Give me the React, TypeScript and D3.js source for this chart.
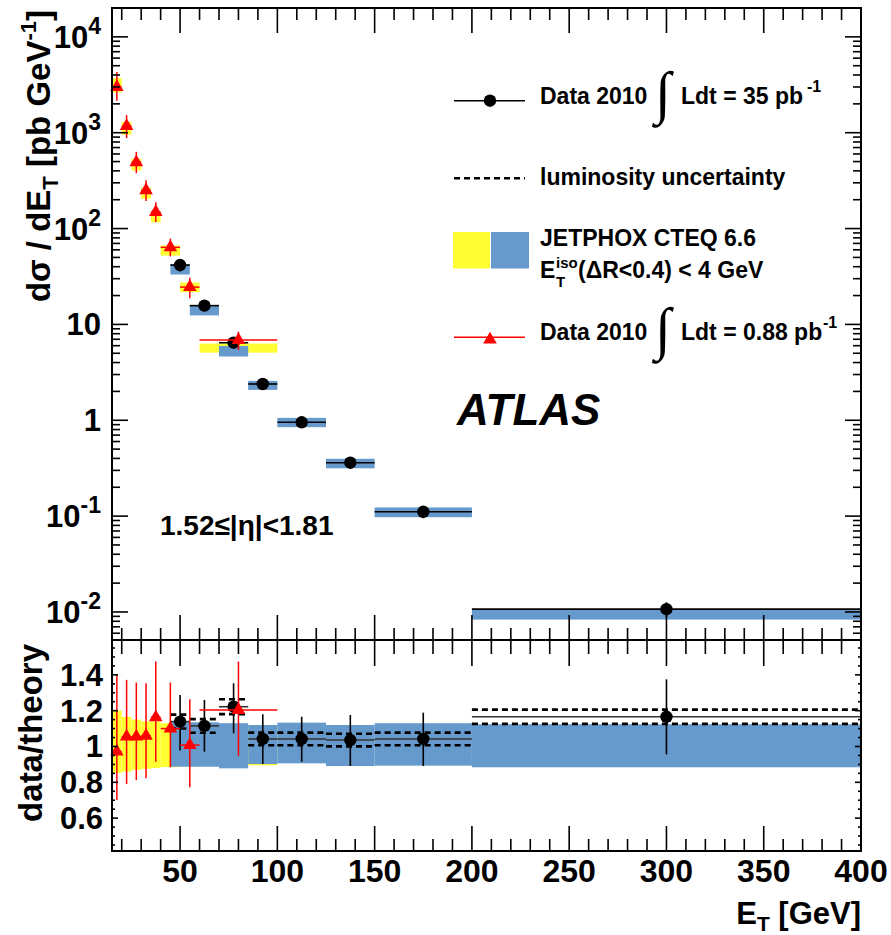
import React, { useEffect, useRef } from "react";
import * as d3 from "d3";

// Data 2010, 35 pb-1 (black points), bin edges in GeV
const binsHigh = [45, 55, 70, 85, 100, 125, 150, 200, 400];
const xsecHigh = [41.6, 15.7, 6.44, 2.39, 0.953, 0.361, 0.111, 0.0107];
const ratioHigh = [1.139, 1.115, 1.222, 1.042, 1.042, 1.036, 1.042, 1.166];
const ratioHighLo = [0.977, 0.971, 1.074, 0.902, 0.915, 0.891, 0.891, 0.956];
const ratioHighHi = [1.288, 1.26, 1.353, 1.18, 1.166, 1.176, 1.189, 1.375];
// JETPHOX prediction in the 35 pb-1 binning (blue)
const theoryHigh = [37.4, 14.0, 5.27, 2.3, 0.935, 0.354, 0.109, 0.00942];
const theoryHighUp = [0.14, 0.135, 0.13, 0.12, 0.133, 0.12, 0.13, 0.124];
const theoryHighDown = [0.113, 0.113, 0.122, 0.098, 0.094, 0.109, 0.107, 0.116];

// Data 2010, 0.88 pb-1 (red triangles)
const binsLow = [15, 20, 25, 30, 35, 40, 50, 60, 100];
const xsecLow = [2990, 1173, 491, 250, 148.6, 63.7, 24.5, 6.87];
const ratioLow = [0.971, 1.055, 1.055, 1.06, 1.163, 1.1, 1.008, 1.204];
const ratioLowLo = [0.701, 0.79, 0.813, 0.822, 0.915, 0.884, 0.772, 0.947];
const ratioLowHi = [1.399, 1.372, 1.357, 1.353, 1.474, 1.357, 1.264, 1.474];
// JETPHOX prediction in the 0.88 pb-1 binning (yellow)
const theoryLow = [3080, 1110, 465, 234, 132, 59.0, 24.4, 5.67];
const theoryLowUp = [0.2, 0.165, 0.15, 0.14, 0.14, 0.13, 0.12, 0.115];
const theoryLowDown = [0.147, 0.14, 0.13, 0.125, 0.12, 0.115, 0.11, 0.105];

const lumiUnc = 0.034;

const xTickValues = [50, 100, 150, 200, 250, 300, 350, 400];
const yTickValues = [1e4, 1e3, 1e2, 10, 1, 0.1, 0.01];
const yTickBase = ["10", "10", "10", "10", "1", "10", "10"];
const yTickExp = ["4", "3", "2", "", "", "-1", "-2"];
const rTickValues = [0.6, 0.8, 1, 1.2, 1.4];
const rTickLabels = ["0.6", "0.8", "1", "1.2", "1.4"];

const YELLOW = "#ffff33";
const BLUE = "#6699cc";
const RED = "#ff0000";
const FONT = "'Liberation Sans', Arial, Helvetica, sans-serif";

export default function App() {
  const ref = useRef<SVGSVGElement>(null);

  useEffect(() => {
    const svg = d3.select(ref.current);
    svg.selectAll("*").remove();

    const width = 891;
    const height = 935;
    const left = 112, right = 861, top = 8, mid = 640, bottom = 851;

    const x = d3.scaleLinear().domain([15, 400]).range([left, right]);
    const y = d3.scaleLog().domain([0.0051, 20000]).range([mid, top]);
    const yr = d3.scaleLinear().domain([0.4165, 1.5946]).range([bottom, mid]);

    svg.attr("width", width).attr("height", height);
    svg.append("rect").attr("width", width).attr("height", height).attr("fill", "#fff");

    const tri = d3.symbol(d3.symbolTriangle, 80)();

    // ---------- upper panel ----------
    const up = svg.append("g");

    // yellow boxes
    theoryLow.forEach((t, i) => {
      const y1 = y(t * (1 + theoryLowUp[i]));
      const y2 = y(t * (1 - theoryLowDown[i]));
      up.append("rect")
        .attr("x", x(binsLow[i])).attr("width", x(binsLow[i + 1]) - x(binsLow[i]))
        .attr("y", y1).attr("height", y2 - y1)
        .attr("fill", YELLOW);
    });
    // blue boxes
    theoryHigh.forEach((t, i) => {
      const y1 = y(t * (1 + theoryHighUp[i]));
      const y2 = y(t * (1 - theoryHighDown[i]));
      up.append("rect")
        .attr("x", x(binsHigh[i])).attr("width", Math.min(x(binsHigh[i + 1]), right - 1) - x(binsHigh[i]))
        .attr("y", y1).attr("height", y2 - y1)
        .attr("fill", BLUE);
    });

    // black points
    xsecHigh.forEach((v, i) => {
      const cx = x((binsHigh[i] + binsHigh[i + 1]) / 2);
      up.append("line")
        .attr("x1", x(binsHigh[i])).attr("x2", Math.min(x(binsHigh[i + 1]), right - 1))
        .attr("y1", y(v)).attr("y2", y(v))
        .attr("stroke", "#000").attr("stroke-width", 1.6);
      up.append("line")
        .attr("x1", cx).attr("x2", cx)
        .attr("y1", y(v * ratioHighHi[i] / ratioHigh[i]))
        .attr("y2", y(v * ratioHighLo[i] / ratioHigh[i]))
        .attr("stroke", "#000").attr("stroke-width", 1.6);
      up.append("circle").attr("cx", cx).attr("cy", y(v)).attr("r", 6.2).attr("fill", "#000");
    });

    // red points
    xsecLow.forEach((v, i) => {
      const cx = x((binsLow[i] + binsLow[i + 1]) / 2);
      up.append("line")
        .attr("x1", x(binsLow[i])).attr("x2", x(binsLow[i + 1]))
        .attr("y1", y(v)).attr("y2", y(v))
        .attr("stroke", RED).attr("stroke-width", 1.5);
      up.append("line")
        .attr("x1", cx).attr("x2", cx)
        .attr("y1", y(v * ratioLowHi[i] / ratioLow[i]))
        .attr("y2", y(v * ratioLowLo[i] / ratioLow[i]))
        .attr("stroke", RED).attr("stroke-width", 1.5);
      up.append("path").attr("d", tri)
        .attr("transform", `translate(${cx},${y(v)})`)
        .attr("fill", RED);
    });

    // ---------- lower panel ----------
    const lo = svg.append("g");

    theoryLow.forEach((_, i) => {
      lo.append("rect")
        .attr("x", x(binsLow[i])).attr("width", x(binsLow[i + 1]) - x(binsLow[i]))
        .attr("y", yr(1 + theoryLowUp[i]))
        .attr("height", yr(1 - theoryLowDown[i]) - yr(1 + theoryLowUp[i]))
        .attr("fill", YELLOW);
    });
    theoryHigh.forEach((_, i) => {
      lo.append("rect")
        .attr("x", x(binsHigh[i])).attr("width", Math.min(x(binsHigh[i + 1]), right - 1) - x(binsHigh[i]))
        .attr("y", yr(1 + theoryHighUp[i]))
        .attr("height", yr(1 - theoryHighDown[i]) - yr(1 + theoryHighUp[i]))
        .attr("fill", BLUE);
    });

    ratioHigh.forEach((r, i) => {
      const x1 = x(binsHigh[i]);
      const x2 = Math.min(x(binsHigh[i + 1]), right - 1);
      const cx = x((binsHigh[i] + binsHigh[i + 1]) / 2);
      [1 + lumiUnc, 1 - lumiUnc].forEach((f) => {
        lo.append("line")
          .attr("x1", x1).attr("x2", x2)
          .attr("y1", yr(r * f)).attr("y2", yr(r * f))
          .attr("stroke", "#000").attr("stroke-width", 2.6)
          .attr("stroke-dasharray", "6,4");
      });
      lo.append("line")
        .attr("x1", x1).attr("x2", x2)
        .attr("y1", yr(r)).attr("y2", yr(r))
        .attr("stroke", "#333").attr("stroke-width", 1.6);
      lo.append("line")
        .attr("x1", cx).attr("x2", cx)
        .attr("y1", yr(ratioHighHi[i])).attr("y2", yr(ratioHighLo[i]))
        .attr("stroke", "#000").attr("stroke-width", 1.6);
      lo.append("circle").attr("cx", cx).attr("cy", yr(r)).attr("r", 6.2).attr("fill", "#000");
    });

    ratioLow.forEach((r, i) => {
      const cx = x((binsLow[i] + binsLow[i + 1]) / 2);
      lo.append("line")
        .attr("x1", x(binsLow[i])).attr("x2", x(binsLow[i + 1]))
        .attr("y1", yr(r)).attr("y2", yr(r))
        .attr("stroke", RED).attr("stroke-width", 1.5);
      lo.append("line")
        .attr("x1", cx).attr("x2", cx)
        .attr("y1", yr(ratioLowHi[i])).attr("y2", yr(ratioLowLo[i]))
        .attr("stroke", RED).attr("stroke-width", 1.5);
      lo.append("path").attr("d", tri)
        .attr("transform", `translate(${cx},${yr(r)})`)
        .attr("fill", RED);
    });

    // ---------- frames and ticks ----------
    const axes = svg.append("g").attr("stroke", "#000").attr("fill", "none");
    axes.append("rect").attr("x", left).attr("y", top).attr("width", right - left).attr("height", mid - top).attr("stroke-width", 2);
    axes.append("rect").attr("x", left).attr("y", mid).attr("width", right - left).attr("height", bottom - mid).attr("stroke-width", 2);

    const xMinor = d3.range(20, 400, 10).filter((v) => v % 50 !== 0);
    const xTicks = (yPos: number, dir: number, major: number, minor: number) => {
      xTickValues.forEach((v) => {
        axes.append("line").attr("x1", x(v)).attr("x2", x(v))
          .attr("y1", yPos).attr("y2", yPos + dir * major).attr("stroke-width", 1.6);
      });
      xMinor.forEach((v) => {
        axes.append("line").attr("x1", x(v)).attr("x2", x(v))
          .attr("y1", yPos).attr("y2", yPos + dir * minor).attr("stroke-width", 1.6);
      });
    };
    xTicks(top, 1, 25, 12);
    xTicks(mid, -1, 25, 12);
    xTicks(mid, 1, 26, 14);
    xTicks(bottom, -1, 25, 12);

    // log ticks of upper panel
    const [yMin, yMax] = y.domain();
    for (let e = -3; e <= 4; e++) {
      for (let m = 1; m <= 9; m++) {
        const v = m * Math.pow(10, e);
        if (v < yMin || v > yMax) continue;
        const len = m === 1 ? 16 : 8;
        axes.append("line").attr("x1", left).attr("x2", left + len)
          .attr("y1", y(v)).attr("y2", y(v)).attr("stroke-width", 1.6);
        axes.append("line").attr("x1", right).attr("x2", right - len)
          .attr("y1", y(v)).attr("y2", y(v)).attr("stroke-width", 1.6);
      }
    }
    // ratio ticks
    d3.range(0.45, 1.56, 0.05).forEach((v) => {
      const isMajor = Math.abs(Math.round(v * 5) - v * 5) < 1e-6;
      const len = isMajor ? 6 : 3;
      axes.append("line").attr("x1", left).attr("x2", left + len)
        .attr("y1", yr(v)).attr("y2", yr(v)).attr("stroke-width", 1.6);
      axes.append("line").attr("x1", right).attr("x2", right - len)
        .attr("y1", yr(v)).attr("y2", yr(v)).attr("stroke-width", 1.6);
    });

    // ---------- labels ----------
    const txt = svg.append("g").attr("font-family", FONT).attr("font-weight", "bold").attr("fill", "#000");

    xTickValues.forEach((v) => {
      txt.append("text").attr("x", x(v)).attr("y", 882)
        .attr("text-anchor", "middle").attr("font-size", 32).text(String(v));
    });

    yTickValues.forEach((v, i) => {
      const t = txt.append("text").attr("x", 101).attr("y", y(v) + 11)
        .attr("text-anchor", "end").attr("font-size", 31);
      t.append("tspan").text(yTickBase[i]);
      if (yTickExp[i]) {
        t.append("tspan").attr("font-size", 23).attr("dy", -14).text(yTickExp[i]);
      }
    });

    rTickValues.forEach((v, i) => {
      txt.append("text").attr("x", 103).attr("y", yr(v) + 11)
        .attr("text-anchor", "end").attr("font-size", 31).text(rTickLabels[i]);
    });

    // axis titles
    const yt = txt.append("text").attr("transform", "translate(50,10) rotate(-90)")
      .attr("text-anchor", "end").attr("font-size", 33);
    yt.append("tspan").text("dσ / dE");
    yt.append("tspan").attr("font-size", 22).attr("dy", 8).text("T");
    yt.append("tspan").attr("dy", -8).text(" [pb GeV");
    yt.append("tspan").attr("font-size", 22).attr("dy", -14).text("-1");
    yt.append("tspan").attr("dy", 14).text("]");

    txt.append("text").attr("transform", "translate(42,644) rotate(-90)")
      .attr("text-anchor", "end").attr("font-size", 33).text("data/theory");

    const xt = txt.append("text").attr("x", 861).attr("y", 924)
      .attr("text-anchor", "end").attr("font-size", 31);
    xt.append("tspan").text("E");
    xt.append("tspan").attr("font-size", 21).attr("dy", 7).text("T");
    xt.append("tspan").attr("dy", -7).text(" [GeV]");

    // ATLAS label and eta range
    txt.append("text").attr("x", 457).attr("y", 425).attr("font-size", 44)
      .attr("font-style", "italic").text("ATLAS");
    txt.append("text").attr("x", 160).attr("y", 535).attr("font-size", 28)
      .text("1.52≤|η|<1.81");

    // ---------- legend ----------
    const leg = svg.append("g");
    const integral = (xPos: number, base: number) => {
      leg.append("text").attr("x", xPos).attr("y", base + 8)
        .attr("font-family", "'Liberation Serif', 'DejaVu Serif', serif").attr("font-size", 58)
        .text("∫");
    };
    const legText = (xPos: number, base: number, s: string, size = 23) =>
      leg.append("text").attr("x", xPos).attr("y", base)
        .attr("font-family", FONT).attr("font-weight", "bold").attr("font-size", size).text(s);

    // row 1: 35 pb-1
    leg.append("line").attr("x1", 454).attr("x2", 525).attr("y1", 100.7).attr("y2", 100.7)
      .attr("stroke", "#000").attr("stroke-width", 1.5);
    leg.append("circle").attr("cx", 490).attr("cy", 100.7).attr("r", 6.2).attr("fill", "#000");
    legText(540, 103.5, "Data 2010");
    integral(655, 103.5);
    legText(681, 103.5, "Ldt = 35 pb");
    legText(807, 92, "-1", 16);

    // row 2: luminosity
    leg.append("line").attr("x1", 454).attr("x2", 525).attr("y1", 178.3).attr("y2", 178.3)
      .attr("stroke", "#000").attr("stroke-width", 2.4).attr("stroke-dasharray", "6,4");
    legText(540, 185, "luminosity uncertainty");

    // row 3: theory
    leg.append("rect").attr("x", 453).attr("y", 232).attr("width", 37).attr("height", 36.5).attr("fill", YELLOW);
    leg.append("rect").attr("x", 491).attr("y", 232).attr("width", 38).attr("height", 36.5).attr("fill", BLUE);
    legText(540, 245.7, "JETPHOX CTEQ 6.6");
    legText(540, 278.3, "E");
    legText(556, 268, "iso", 15);
    legText(556, 286.5, "T", 15);
    legText(578, 278.3, "(ΔR<0.4) < 4 GeV");

    // row 4: 0.88 pb-1
    leg.append("line").attr("x1", 454).attr("x2", 525).attr("y1", 337.3).attr("y2", 337.3)
      .attr("stroke", RED).attr("stroke-width", 1.5);
    leg.append("path").attr("d", tri).attr("transform", "translate(490,339.5)").attr("fill", RED);
    legText(540, 340, "Data 2010");
    integral(655, 340);
    legText(681, 340, "Ldt = 0.88 pb");
    legText(823, 328, "-1", 16);
  }, []);

  return <svg ref={ref} style={{ position: "absolute", left: 0, top: 0 }}></svg>;
}
